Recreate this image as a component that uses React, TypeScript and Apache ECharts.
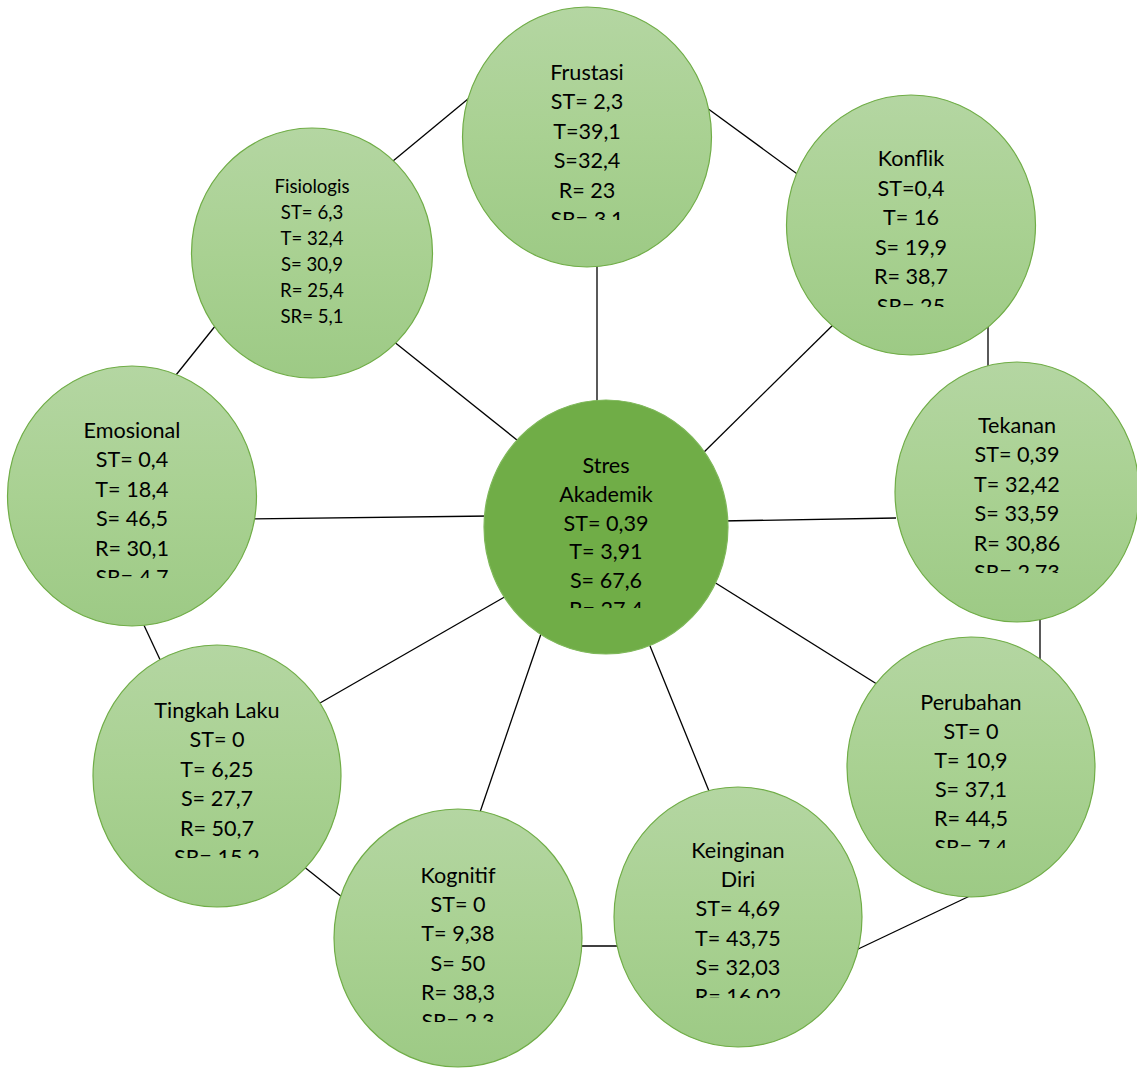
import React, { useEffect, useRef } from "react";
import * as echarts from "echarts";

// ---- data ----
const nodeNames = ["Stres\nAkademik", "Frustasi", "Konflik", "Tekanan", "Perubahan", "Keinginan\nDiri", "Kognitif", "Tingkah Laku", "Emosional", "Fisiologis"];
const stLabels = ["ST= 0,39", "ST= 2,3", "ST=0,4", "ST= 0,39", "ST= 0", "ST= 4,69", "ST= 0", "ST= 0", "ST= 0,4", "ST= 6,3"];
const tLabels = ["T= 3,91", "T=39,1", "T= 16", "T= 32,42", "T= 10,9", "T= 43,75", "T= 9,38", "T= 6,25", "T= 18,4", "T= 32,4"];
const sLabels = ["S= 67,6", "S=32,4", "S= 19,9", "S= 33,59", "S= 37,1", "S= 32,03", "S= 50", "S= 27,7", "S= 46,5", "S= 30,9"];
const rLabels = ["R= 27,4", "R= 23", "R= 38,7", "R= 30,86", "R= 44,5", "R= 16,02", "R= 38,3", "R= 50,7", "R= 30,1", "R= 25,4"];
const srLabels = ["", "SR= 3,1", "SR= 25", "SR= 2,73", "SR= 7,4", "", "SR= 2,3", "SR= 15,2", "SR= 4,7", "SR= 5,1"];
const edgeFrom = [0, 0, 0, 0, 0, 0, 0, 0, 0, 9, 1, 2, 3, 4, 5, 6, 7, 8];
const edgeTo = [1, 9, 2, 8, 3, 7, 6, 5, 4, 1, 2, 3, 4, 5, 6, 7, 8, 9];

// ---- layout (pixels) ----
// cx, cy, rx, ry, first text line centre, line height, font size, clip bottom (0 = none)
const nodeLayout = [
  [606, 527, 122, 127, 465, 28.8, 21.6, 608],
  [587, 137, 124.5, 130, 72, 29.4, 21.6, 220],
  [911, 225, 124.5, 130, 158, 29.6, 21.6, 307],
  [1017, 492, 122, 130, 425, 29.4, 21.6, 573],
  [971, 767, 124, 130, 702, 29, 21.6, 848],
  [738, 917, 124, 130, 850, 29.2, 21.6, 998],
  [458, 938, 124, 129, 875, 29.2, 21.6, 1022],
  [217, 776, 124, 131, 710, 29.4, 21.6, 858],
  [132, 496, 124.5, 130, 430, 29.4, 21.6, 578],
  [312, 253, 120.5, 125, 186, 26, 18.6, 0],
];
const edgeLayout = [
  [597, 262, 597, 406],
  [393, 341, 522, 444],
  [838, 320, 698, 458],
  [251, 519, 490, 516],
  [721, 521, 896, 518],
  [320, 703, 508, 595],
  [478, 818, 542, 631],
  [648, 641, 711, 796],
  [706, 577, 880, 686],
  [393, 161, 474, 94],
  [707, 108, 800, 176],
  [988, 322, 988, 372],
  [1040, 614, 1040, 663],
  [974, 894, 854, 951],
  [576, 946, 623, 946],
  [298, 862, 347, 901],
  [142, 621, 163, 666],
  [172, 380, 220, 320],
];

const FONT = "Lato, 'Noto Sans', sans-serif";

export default function App() {
  const ref = useRef<HTMLDivElement>(null);
  useEffect(() => {
    if (!ref.current) return;
    const chart = echarts.init(ref.current, null, { renderer: "svg" });
    const lightFill = new echarts.graphic.LinearGradient(0, 0, 0, 1, [
      { offset: 0, color: "#b4d6a2" },
      { offset: 0.5, color: "#a9d192" },
      { offset: 1, color: "#9dca85" },
    ]);
    const lines = edgeFrom.map((_, i) => {
      const e = edgeLayout[i];
      return {
        type: "line",
        silent: true,
        shape: { x1: e[0], y1: e[1], x2: e[2], y2: e[3] },
        style: { stroke: "#000", lineWidth: 1.3 },
      };
    });
    chart.setOption({
      animation: false,
      backgroundColor: "#ffffff",
      graphic: { elements: lines },
      series: [
        {
          type: "custom",
          coordinateSystem: "none",
          silent: true,
          z: 5,
          data: nodeNames.map((_, i) => [i]),
          renderItem: (params: any, api: any) => {
            const i = api.value(0);
            const [cx, cy, rx, ry, ty, lh, fs, clip] = nodeLayout[i];
            const textLines = [
              ...nodeNames[i].split("\n"),
              stLabels[i],
              tLabels[i],
              sLabels[i],
              rLabels[i],
              srLabels[i],
            ].filter((s) => s);
            const texts = textLines.map((s, k) => ({
              type: "text",
              style: {
                text: s,
                x: cx,
                y: ty + k * lh,
                align: "center",
                verticalAlign: "middle",
                fill: "#000000",
                fontSize: fs,
                fontFamily: FONT,
              },
            }));
            const textGroup: any = { type: "group", children: texts };
            if (clip) {
              textGroup.clipPath = {
                type: "rect",
                shape: { x: cx - rx, y: 0, width: rx * 2, height: clip },
              };
            }
            return {
              type: "group",
              children: [
                {
                  type: "ellipse",
                  shape: { cx, cy, rx, ry },
                  style: {
                    fill: i === 0 ? "#70ad47" : lightFill,
                    stroke: i === 0 ? "#7fb85a" : "#70ad47",
                    lineWidth: 1.2,
                  },
                },
                textGroup,
              ],
            };
          },
        },
      ],
    });
    return () => chart.dispose();
  }, []);
  return (
    <div
      ref={ref}
      style={{ position: "absolute", left: 0, top: 0, width: 1137, height: 1068 }}
    />
  );
}
